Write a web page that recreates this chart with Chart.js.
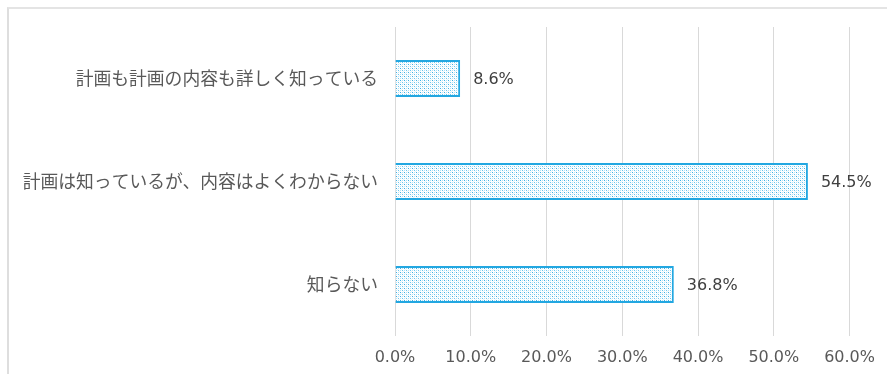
<!DOCTYPE html>
<html>
<head>
<meta charset="utf-8">
<script src="https://cdn.jsdelivr.net/npm/chart.js@4"></script>
<style>
  body { margin: 0; background: #fff; }
  .wrap { position: relative; width: 887px; height: 374px; overflow: hidden; }
  .frame { position: absolute; left: 7px; top: 7px; width: 900px; height: 400px;
           border-left: 2px solid #dedede; border-top: 2px solid #e4e4e4; }
  canvas { position: absolute; left: 0; top: 0; }
</style>
</head>
<body>
<div class="wrap">
  <div class="frame"></div>
  <canvas id="myChart" width="887" height="374"></canvas>
</div>
<script>
const categories = ["計画も計画の内容も詳しく知っている", "計画は知っているが、内容はよくわからない", "知らない"];
const shares = [8.6, 54.5, 36.8];
const tickSteps = [0, 10, 20, 30, 40, 50, 60];

// dotted fill like the original
const makePattern = () => {
    const c = document.createElement("canvas");
    c.width = 4; c.height = 4;
    const p = c.getContext("2d");
    p.fillStyle = "#ffffff";
    p.fillRect(0, 0, 4, 4);
    p.fillStyle = "#3fb0e4"; p.fillRect(0, 0, 1, 1);
    p.fillStyle = "#6cc6ee"; p.fillRect(2, 2, 1, 1);
    p.fillStyle = "#b5e2f6"; p.fillRect(2, 0, 1, 1); p.fillRect(0, 2, 1, 1);
    p.fillStyle = "#e6f5fc"; p.fillRect(1, 1, 1, 1); p.fillRect(3, 3, 1, 1);
    return c;
};

const ctx = document.getElementById("myChart").getContext("2d");
const dots = ctx.createPattern(makePattern(), "repeat");

const valueLabels = {
    id: "valueLabels",
    afterDatasetsDraw(chart) {
        const c = chart.ctx;
        const meta = chart.getDatasetMeta(0);
        c.save();
        c.font = "16px 'DejaVu Sans'";
        c.fillStyle = "#404040";
        c.textAlign = "left";
        c.textBaseline = "middle";
        meta.data.forEach((bar, i) => {
            c.fillText(shares[i].toFixed(1) + "%", bar.x + 13, bar.y + 1);
        });
        c.restore();
    }
};

new Chart(ctx, {
    type: "bar",
    data: {
        labels: categories,
        datasets: [{
            data: shares,
            backgroundColor: dots,
            borderColor: "#22a7e1",
            borderWidth: 2,
            borderSkipped: "start",
            categoryPercentage: 1,
            barPercentage: 0.36
        }]
    },
    options: {
        indexAxis: "y",
        responsive: false,
        animation: false,
        layout: { padding: { top: 27, right: 34, left: 0, bottom: 0 } },
        plugins: { legend: { display: false }, tooltip: { enabled: false } },
        scales: {
            x: {
                min: tickSteps[0],
                max: tickSteps[tickSteps.length - 1],
                afterBuildTicks: (scale) => { scale.ticks = tickSteps.map(v => ({ value: v })); },
                afterFit: (scale) => { scale.height = 38; },
                grid: { color: "#d9d9d9", drawTicks: false },
                border: { display: false },
                ticks: {
                    padding: 12,
                    color: "#595959",
                    font: { family: "'DejaVu Sans'", size: 16 },
                    callback: (v) => Number(v).toFixed(1) + "%"
                }
            },
            y: {
                afterFit: (scale) => { scale.width = 395; },
                grid: { display: false },
                border: { display: false },
                ticks: {
                    padding: 9,
                    color: "#595959",
                    font: { family: "'Noto Sans CJK JP'", size: 17.8 }
                }
            }
        }
    },
    plugins: [valueLabels]
});
</script>
</body>
</html>
